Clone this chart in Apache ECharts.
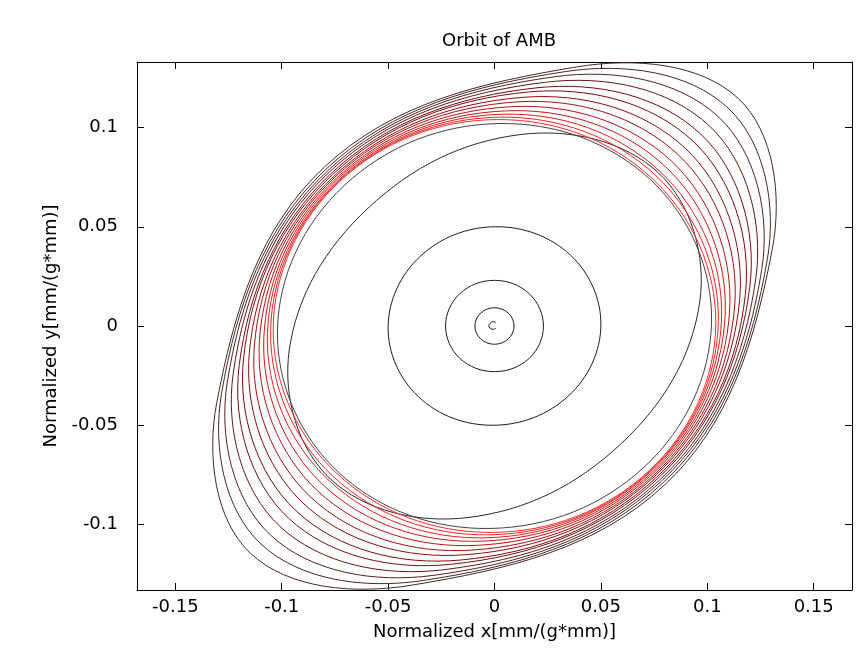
<!DOCTYPE html>
<html><head><meta charset="utf-8">
<script src="https://cdn.jsdelivr.net/npm/echarts@6/dist/echarts.min.js"></script>
<style>html,body{margin:0;padding:0;background:#fff}#c{width:868px;height:661px}</style>
</head><body><div id="c"></div>
<script>
// ---- axes ----
const xTicks = [-0.15, -0.1, -0.05, 0, 0.05, 0.1, 0.15];
const yTicks = [-0.1, -0.05, 0, 0.05, 0.1];
const xRange = [-0.168, 0.168];
const yRange = [-0.133, 0.133];

// ---- orbit data (x, y) in mm/(g*mm) ----
// "c"-shaped start of the orbit at the centre
const startArc = [[0.0007, 0.0017], [-0.0007, 0.0022], [-0.0020, 0.0014], [-0.0027, 0.0002],
  [-0.0021, -0.0011], [-0.0007, -0.0017], [0.0006, -0.0012]];

// eight points read around each successive orbit loop
const loop1  = [[0.0065, 0.0065], [0, 0.0092], [-0.0065, 0.0065], [-0.0092, 0], [-0.0065, -0.0065], [0, -0.0092], [0.0065, -0.0065], [0.0092, 0]];
const loop2  = [[0.0163, 0.0163], [0, 0.0230], [-0.0163, 0.0163], [-0.0230, 0], [-0.0163, -0.0163], [0, -0.0230], [0.0163, -0.0163], [0.0230, 0]];
const loop3  = [[0.0357, 0.0357], [0.0005, 0.0500], [-0.0350, 0.0350], [-0.0500, -0.0005], [-0.0357, -0.0357], [-0.0005, -0.0500], [0.0350, -0.0350], [0.0500, 0.0005]];
const loop4  = [[0.0771, 0.0771], [0.0125, 0.0965], [-0.0594, 0.0594], [-0.0965, -0.0125], [-0.0771, -0.0771], [-0.0125, -0.0965], [0.0594, -0.0594], [0.0965, 0.0125]];
const loop5  = [[0.0735, 0.0735], [0.0020, 0.1020], [-0.0707, 0.0707], [-0.1020, -0.0020], [-0.0735, -0.0735], [-0.0020, -0.1020], [0.0707, -0.0707], [0.1020, 0.0020]];
const loop6  = [[0.0742, 0.0742], [0.0010, 0.1040], [-0.0728, 0.0728], [-0.1040, -0.0010], [-0.0742, -0.0742], [-0.0010, -0.1040], [0.0728, -0.0728], [0.1040, 0.0010]];
const loop7  = [[0.0758, 0.0758], [0.0023, 0.1052], [-0.0731, 0.0731], [-0.1052, -0.0023], [-0.0758, -0.0758], [-0.0023, -0.1052], [0.0731, -0.0731], [0.1052, 0.0023]];
const loop8  = [[0.0778, 0.0778], [0.0039, 0.1067], [-0.0734, 0.0734], [-0.1067, -0.0039], [-0.0778, -0.0778], [-0.0039, -0.1067], [0.0734, -0.0734], [0.1067, 0.0039]];
const loop9  = [[0.0803, 0.0803], [0.0058, 0.1084], [-0.0739, 0.0739], [-0.1084, -0.0058], [-0.0803, -0.0803], [-0.0058, -0.1084], [0.0739, -0.0739], [0.1084, 0.0058]];
const loop10 = [[0.0831, 0.0831], [0.0080, 0.1105], [-0.0744, 0.0744], [-0.1105, -0.0080], [-0.0831, -0.0831], [-0.0080, -0.1105], [0.0744, -0.0744], [0.1105, 0.0080]];
const loop11 = [[0.0863, 0.0863], [0.0106, 0.1129], [-0.0750, 0.0750], [-0.1129, -0.0106], [-0.0863, -0.0863], [-0.0106, -0.1129], [0.0750, -0.0750], [0.1129, 0.0106]];
const loop12 = [[0.0896, 0.0896], [0.0132, 0.1152], [-0.0755, 0.0755], [-0.1152, -0.0132], [-0.0896, -0.0896], [-0.0132, -0.1152], [0.0755, -0.0755], [0.1152, 0.0132]];
const loop13 = [[0.0932, 0.0932], [0.0160, 0.1179], [-0.0762, 0.0762], [-0.1179, -0.0160], [-0.0932, -0.0932], [-0.0160, -0.1179], [0.0762, -0.0762], [0.1179, 0.0160]];
const loop14 = [[0.0968, 0.0968], [0.0200, 0.1200], [-0.0768, 0.0768], [-0.1200, -0.0200], [-0.0968, -0.0968], [-0.0200, -0.1200], [0.0768, -0.0768], [0.1200, 0.0200]];
const loop15 = [[0.1009, 0.1009], [0.0240, 0.1228], [-0.0776, 0.0776], [-0.1228, -0.0240], [-0.1009, -0.1009], [-0.0240, -0.1228], [0.0776, -0.0776], [0.1228, 0.0240]];
const loop16 = [[0.1053, 0.1053], [0.0285, 0.1256], [-0.0783, 0.0783], [-0.1256, -0.0285], [-0.1053, -0.1053], [-0.0285, -0.1256], [0.0783, -0.0783], [0.1256, 0.0285]];
const loop17 = [[0.1098, 0.1098], [0.0335, 0.1282], [-0.0791, 0.0791], [-0.1282, -0.0335], [-0.1098, -0.1098], [-0.0335, -0.1282], [0.0791, -0.0791], [0.1282, 0.0335]];
const loop18 = [[0.1146, 0.1146], [0.0385, 0.1305], [-0.0800, 0.0800], [-0.1305, -0.0385], [-0.1146, -0.1146], [-0.0385, -0.1305], [0.0800, -0.0800], [0.1305, 0.0385]];

const orbitLoops = [loop1, loop2, loop3, loop4, loop5, loop6, loop7, loop8, loop9,
  loop10, loop11, loop12, loop13, loop14, loop15, loop16, loop17, loop18];

// ---- styles ----
const loopColors = ['#1e1e1e', '#1e1e1e', '#1e1e1e', '#2a2a2a', '#4a4242',
  '#ff2a2a', '#f22424', '#e01e1e', '#cc1818', '#b81414', '#a41010', '#920c0c',
  '#820a0a', '#721010', '#641818', '#582020', '#4c2626', '#422a2a'];
const FONT = '"DejaVu Sans", Verdana, sans-serif';

const chart = echarts.init(document.getElementById('c'), null, {renderer: 'canvas'});

function mkAxis(dim, pos, range, ticks, showLabel, extra) {
  return Object.assign({
    type: 'value', position: pos, min: range[0], max: range[1],
    axisLine: {show: true, onZero: false, lineStyle: {color: '#000', width: 1}},
    axisTick: {show: true, inside: true, length: 7, customValues: ticks, lineStyle: {color: '#000'}},
    axisLabel: {show: showLabel, customValues: ticks, color: '#000', fontSize: 18, fontFamily: FONT,
      margin: dim === 'x' ? 8 : 19, formatter: v => String(v)},
    splitLine: {show: false}
  }, extra || {});
}

chart.setOption({
  animation: false,
  backgroundColor: '#fff',
  title: {
    text: 'Orbit of AMB', left: 494, top: 27, textAlign: 'center',
    textStyle: {fontSize: 18, fontWeight: 'normal', color: '#000', fontFamily: FONT}
  },
  grid: {left: 137, right: 16, top: 62, bottom: 71, containLabel: false},
  xAxis: [
    mkAxis('x', 'bottom', xRange, xTicks, true, {
      name: 'Normalized x[mm/(g*mm)]', nameLocation: 'middle', nameGap: 33,
      nameTextStyle: {fontSize: 18, color: '#000', fontFamily: FONT}
    }),
    mkAxis('x', 'top', xRange, xTicks, false)
  ],
  yAxis: [
    mkAxis('y', 'left', yRange, yTicks, true, {
      name: 'Normalized y[mm/(g*mm)]', nameLocation: 'middle', nameGap: 70,
      nameTextStyle: {fontSize: 18, color: '#000', fontFamily: FONT}
    }),
    mkAxis('y', 'right', yRange, yTicks, false)
  ],
  series: [
    {
      type: 'custom', coordinateSystem: 'cartesian2d', clip: true, silent: true,
      xAxisIndex: 0, yAxisIndex: 0,
      data: orbitLoops.map((_, k) => [0, 0, k]),
      encode: {x: 0, y: 1},
      renderItem: (params, api) => {
        const k = api.value(2);
        return {
          type: 'polygon',
          shape: {points: orbitLoops[k].map(p => api.coord(p)), smooth: 0.375},
          style: {fill: 'none', stroke: loopColors[k], lineWidth: 1}
        };
      }
    },
    {
      type: 'custom', coordinateSystem: 'cartesian2d', clip: true, silent: true,
      xAxisIndex: 0, yAxisIndex: 0,
      data: [[0, 0]],
      encode: {x: 0, y: 1},
      renderItem: (params, api) => ({
        type: 'polyline',
        shape: {points: startArc.map(p => api.coord(p)), smooth: 0.35},
        style: {fill: 'none', stroke: '#1e1e1e', lineWidth: 1}
      })
    }
  ]
});
</script></body></html>
